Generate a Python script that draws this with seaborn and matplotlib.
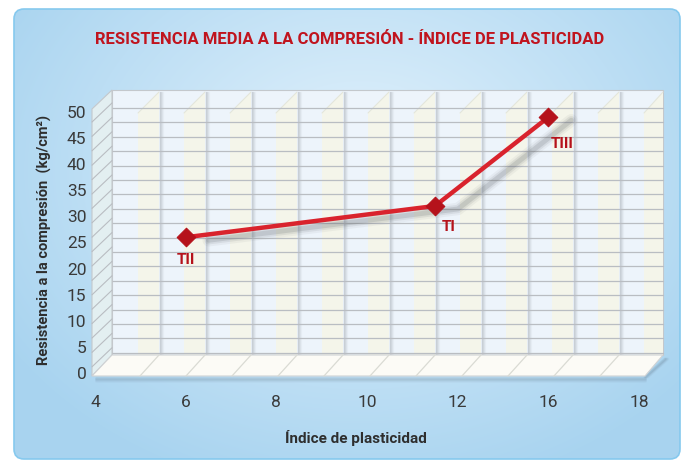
import numpy as np
import pandas as pd
import matplotlib
matplotlib.use("Agg")
import matplotlib.pyplot as plt
import matplotlib.transforms as mtransforms
from matplotlib.patches import FancyBboxPatch, Polygon, Rectangle
import seaborn as sns

# ---------------- data ----------------
title = "RESISTENCIA MEDIA A LA COMPRESIÓN - ÍNDICE DE PLASTICIDAD"
xlabel = "Índice de plasticidad"
ylabel = "Resistencia a la compresión  (kg/cm²)"
x_ticks = [4, 6, 8, 10, 12, 16, 18]
y_ticks = [0, 5, 10, 15, 20, 25, 30, 35, 40, 45, 50]
sample_names = ["TII", "TI", "TIII"]
plasticity = [6, 11.5, 16]
resistance = [26, 32, 49]
label_offsets = [(0, -16), (10, -15), (10, -19)]  # points

# ---------------- style ----------------
sns.set_theme(style="white")
plt.rcParams['font.family'] = ['Roboto', 'DejaVu Sans']

W, H = 684, 463
fig = plt.figure(figsize=(W / 100, H / 100), dpi=100)
fig.patch.set_facecolor("white")

# background axes in pixel coordinates
bg = fig.add_axes([0, 0, 1, 1], zorder=0)
bg.set_xlim(0, W)
bg.set_ylim(H, 0)
bg.axis("off")

# gradient panel
yy, xx = np.mgrid[0:H, 0:W]
r = np.sqrt(((xx - 360) / 420.0) ** 2 + ((yy - 170) / 330.0) ** 2)
r = np.clip(r, 0, 1)
c0 = np.array([0.89, 0.95, 0.99])
c1 = np.array([0.66, 0.83, 0.94])
img = c0[None, None, :] * (1 - r[..., None]) + c1[None, None, :] * r[..., None]
im = bg.imshow(img, extent=(0, W, H, 0), zorder=0, interpolation="bilinear")
panel = FancyBboxPatch((14, 9), 666, 450, boxstyle="round,pad=0,rounding_size=10",
                       facecolor="none", edgecolor="#86c9ee", linewidth=1.2, zorder=1)
bg.add_patch(panel)
im.set_clip_path(panel)

# --- pseudo 3D chart frame ---
wall_l, wall_r, wall_t, wall_b = 112, 663, 90, 355
front_l, front_r, front_b = 92, 645, 376

# floor shadow
for k, a in enumerate([0.10, 0.08, 0.06, 0.04]):
    bg.plot([front_l + 4, front_r], [front_b + 2 + k, front_b + 2 + k], color="#506070", alpha=a, lw=2, zorder=1)
    bg.plot([front_r + k, wall_r + 2 + k], [front_b + 1, wall_b + 4], color="#506070", alpha=a, lw=2, zorder=1)

# back wall
bg.add_patch(Rectangle((wall_l, wall_t), wall_r - wall_l, wall_b - wall_t,
                       facecolor="#edf4fb", edgecolor="#c4c8cc", lw=0.8, zorder=2))
# slabs
for k in range(12):
    x0 = 138 + 46 * k
    x1 = x0 + 21
    if x1 > wall_r:
        x1 = wall_r
    bg.add_patch(Polygon([(x0, 113), (x1, 92), (x1, wall_b), (x0, wall_b)],
                         closed=True, facecolor="#f4f5ea", edgecolor="none", zorder=3))
    bg.plot([x0, x1], [113, 92], color="#e4e6dc", lw=0.8, zorder=3)
    for j, a in enumerate([0.40, 0.26, 0.14, 0.06]):
        if x1 + j < wall_r:
            bg.plot([x1 + j + 0.5, x1 + j + 0.5], [92, wall_b], color="#9aa0a8", alpha=a, lw=1, zorder=3)
# gridlines on back wall
for gy in np.arange(108, 354, 14.4):
    bg.plot([wall_l, wall_r], [gy, gy], color="#b9bdc2", lw=0.9, zorder=4)
# left wall
bg.add_patch(Polygon([(front_l, 109), (wall_l, wall_t), (wall_l, wall_b), (front_l, front_b)],
                     closed=True, facecolor="#e3eff1", edgecolor="#c4c8cc", lw=0.8, zorder=4))
for gy in np.arange(122, 376, 14.4):
    bg.plot([front_l, wall_l], [gy, gy - 19], color="#b9bdc2", lw=0.8, zorder=4)
# floor
bg.add_patch(Polygon([(wall_l, wall_b), (wall_r, wall_b), (front_r, front_b), (front_l, front_b)],
                     closed=True, facecolor="#fcfbf6", edgecolor="#cfd2d4", lw=0.8, zorder=5))
for k in range(12):
    x1 = 159 + 46 * k
    if x1 < wall_r:
        bg.plot([x1, x1 - 19], [wall_b, front_b], color="#dadbd4", lw=0.9, zorder=5)

# ---------------- main axes ----------------
ax_l, ax_r, ax_t, ax_b = 92, 665, 88, 378
ax = fig.add_axes([ax_l / W, (H - ax_b) / H, (ax_r - ax_l) / W, (ax_b - ax_t) / H], zorder=2)
ax.patch.set_alpha(0)
px_per_x = (639 - 95) / 6.0
px_per_y = (373 - 112) / 50.0
ax.set_xlim((ax_l - 95) / px_per_x, (ax_r - 95) / px_per_x)
ax.set_ylim(-(ax_b - 373) / px_per_y, (373 - ax_t) / px_per_y)
for s in ax.spines.values():
    s.set_visible(False)

pos = np.interp(plasticity, x_ticks, np.arange(len(x_ticks)))
df = pd.DataFrame({"pos": pos, "res": resistance, "name": sample_names})

# shadow
shadow_tr = mtransforms.offset_copy(ax.transData, fig=fig, x=23, y=-3, units="dots")
for lw, a in [(9, 0.06), (6, 0.10), (3.5, 0.16)]:
    ax.plot(df["pos"], df["res"], color="#555a60", lw=lw, alpha=a, transform=shadow_tr,
            solid_capstyle="round", zorder=3)

sns.lineplot(data=df, x="pos", y="res", ax=ax, color="#d9232d", linewidth=3.2,
             sort=False, zorder=4, legend=False)
sns.scatterplot(data=df, x="pos", y="res", ax=ax, marker="D", s=90, color="#b5121b",
                edgecolor="#b5121b", zorder=5, legend=False)

for (px, py, name), (dx, dy) in zip(df[["pos", "res", "name"]].values, label_offsets):
    ax.annotate(name, (px, py), xytext=(dx, dy), textcoords="offset points",
                ha="center", va="center", color="#b5121b", fontsize=11, fontweight="bold", zorder=6)

ax.set_xticks(np.arange(len(x_ticks)))
ax.set_xticklabels([str(t) for t in x_ticks])
ax.set_yticks(y_ticks)
ax.set_yticklabels([str(t) for t in y_ticks])
ax.tick_params(axis="both", length=0, labelsize=12.5, labelcolor="#3a3a3a")
ax.tick_params(axis="x", pad=12)
ax.tick_params(axis="y", pad=4)
ax.set_xlabel("")
ax.set_ylabel("")

fig.text(350 / W, 1 - 40 / H, title, ha="center", va="center", color="#c0141e",
         fontsize=12, fontweight="bold")
fig.text(356 / W, 1 - 438 / H, xlabel, ha="center", va="center", color="#2e2e2e",
         fontsize=11, fontweight="bold")
fig.text(44 / W, 1 - 240 / H, ylabel, ha="center", va="center", rotation=90, color="#2e2e2e",
         fontsize=10.5, fontweight="bold")

fig.savefig("out.png", dpi=100, facecolor="white")
